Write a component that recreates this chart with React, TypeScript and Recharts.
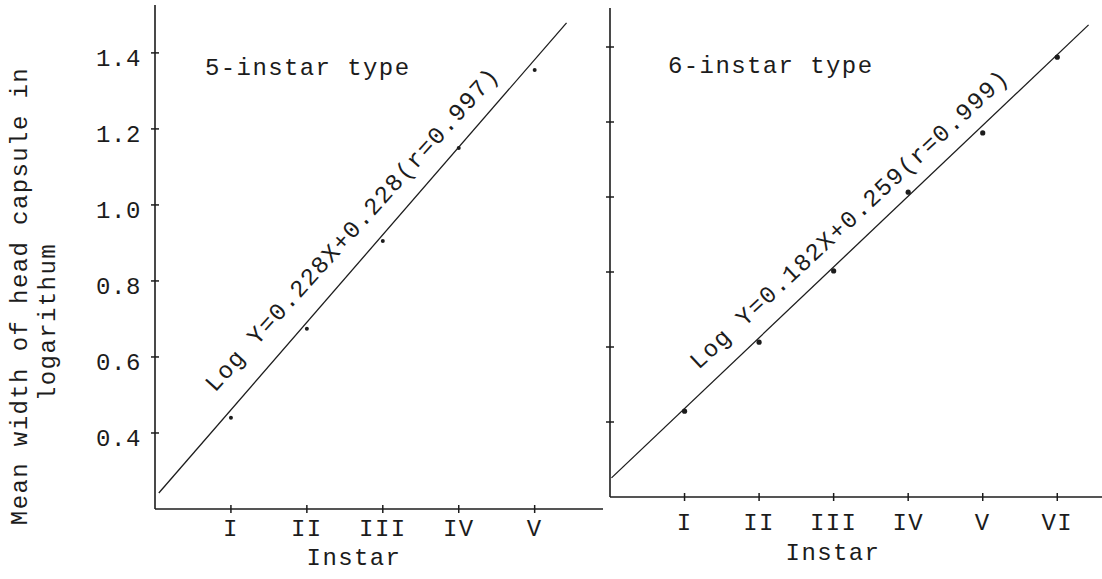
import React from 'react';
import { ScatterChart, Scatter, XAxis, YAxis } from 'recharts';

const FONT = '"Liberation Mono", "DejaVu Sans Mono", monospace';
const INK = '#1c1c1c';

// 5-instar type
const leftInstars = [1, 2, 3, 4, 5];
const leftInstarLabels = ['I', 'II', 'III', 'IV', 'V'];
const leftLogWidth = [0.44, 0.674, 0.905, 1.15, 1.355];
const leftFitX = [0.05, 5.42];
const leftFitY = [0.242, 1.479];

// 6-instar type
const rightInstars = [1, 2, 3, 4, 5, 6];
const rightInstarLabels = ['I', 'II', 'III', 'IV', 'V', 'VI'];
const rightLogWidth = [0.429, 0.613, 0.803, 1.013, 1.171, 1.373];
const rightFitX = [0.02, 6.42];
const rightFitY = [0.251, 1.459];

const yTickValues = [0.4, 0.6, 0.8, 1.0, 1.2, 1.4];
const yTickLabels = ['0.4', '0.6', '0.8', '1.0', '1.2', '1.4'];

const leftPoints = leftInstars.map((x, i) => ({ x, y: leftLogWidth[i] }));
const leftFit = leftFitX.map((x, i) => ({ x, y: leftFitY[i] }));
const rightPoints = rightInstars.map((x, i) => ({ x, y: rightLogWidth[i] }));
const rightFit = rightFitX.map((x, i) => ({ x, y: rightFitY[i] }));

const textStyle = { fontFamily: FONT, fontSize: 24, letterSpacing: 1.4, fill: INK } as const;

const makeXTick = (labels: string[], labelDy: number) => (props: any) => {
  const { x, y, payload } = props;
  const label = labels[Math.round(payload.value) - 1] ?? '';
  return (
    <g>
      <line x1={x} x2={x} y1={y - 4} y2={y + 4} stroke={INK} strokeWidth={1.5} />
      <text x={x} y={y + labelDy} textAnchor="middle" dominantBaseline="central" {...textStyle}>
        {label}
      </text>
    </g>
  );
};

const makeYTick = (showLabel: boolean) => (props: any) => {
  const { x, y, payload } = props;
  const idx = yTickValues.findIndex((v) => Math.abs(v - payload.value) < 1e-6);
  return (
    <g>
      <line x1={x - 4} x2={x + 4} y1={y} y2={y} stroke={INK} strokeWidth={1.5} />
      {showLabel && idx >= 0 ? (
        <text x={x - 14} y={y + 7} textAnchor="end" dominantBaseline="central" {...textStyle} letterSpacing={0.6}>
          {yTickLabels[idx]}
        </text>
      ) : null}
    </g>
  );
};

const noShape = () => <g />;
const dotShape = (r: number) => (p: any) => <circle cx={p.cx} cy={p.cy} r={r} fill={INK} />;

const axisLine = { stroke: INK, strokeWidth: 1.6 };
const fitLine = { stroke: INK, strokeWidth: 1.3 };

export default function App() {
  return (
    <div style={{ position: 'absolute', left: 0, top: 0, width: 1102, height: 579, background: '#fff' }}>
      <div style={{ position: 'absolute', left: 0, top: 0 }}>
        <ScatterChart width={603} height={579} margin={{ top: 5, right: 0, bottom: 0, left: 0 }}>
          <XAxis
            dataKey="x"
            type="number"
            domain={[0, 5.9]}
            ticks={leftInstars}
            interval={0}
            allowDataOverflow
            height={70}
            axisLine={axisLine}
            tickLine={false}
            tickSize={0}
            tickMargin={0}
            tick={makeXTick(leftInstarLabels, 20)}
          />
          <YAxis
            dataKey="y"
            type="number"
            domain={[0.2, 1.526]}
            ticks={yTickValues}
            interval={0}
            allowDataOverflow
            width={155}
            axisLine={axisLine}
            tickLine={false}
            tickSize={0}
            tickMargin={0}
            tick={makeYTick(true)}
          />
          <Scatter data={leftFit} line={fitLine} shape={noShape} isAnimationActive={false} />
          <Scatter data={leftPoints} shape={dotShape(2)} isAnimationActive={false} />
        </ScatterChart>
      </div>
      <div style={{ position: 'absolute', left: 0, top: 0 }}>
        <ScatterChart width={1102} height={579} margin={{ top: 8, right: 0, bottom: 0, left: 0 }}>
          <XAxis
            dataKey="x"
            type="number"
            domain={[0, 6.6]}
            ticks={rightInstars}
            interval={0}
            allowDataOverflow
            height={82}
            axisLine={axisLine}
            tickLine={false}
            tickSize={0}
            tickMargin={0}
            tick={makeXTick(rightInstarLabels, 26)}
          />
          <YAxis
            dataKey="y"
            type="number"
            domain={[0.2, 1.504]}
            ticks={yTickValues}
            interval={0}
            allowDataOverflow
            width={610}
            axisLine={axisLine}
            tickLine={false}
            tickSize={0}
            tickMargin={0}
            tick={makeYTick(false)}
          />
          <Scatter data={rightFit} line={fitLine} shape={noShape} isAnimationActive={false} />
          <Scatter data={rightPoints} shape={dotShape(2.6)} isAnimationActive={false} />
        </ScatterChart>
      </div>
      <svg
        width={1102}
        height={579}
        style={{ position: 'absolute', left: 0, top: 0, pointerEvents: 'none' }}
      >
        <text x={20} y={296} transform="rotate(-90 20 296)" textAnchor="middle" dominantBaseline="central" {...textStyle}>
          Mean width of head capsule in
        </text>
        <text x={48} y={322} transform="rotate(-90 48 322)" textAnchor="middle" dominantBaseline="central" {...textStyle}>
          logarithum
        </text>
        <text x={205} y={68} dominantBaseline="central" {...textStyle}>
          5-instar type
        </text>
        <text x={668} y={66} dominantBaseline="central" {...textStyle}>
          6-instar type
        </text>
        <text x={353} y={230} transform="rotate(-48 353 230)" textAnchor="middle" dominantBaseline="central" {...textStyle}>
          Log Y=0.228X+0.228(r=0.997)
        </text>
        <text x={850} y={220} transform="rotate(-43 850 220)" textAnchor="middle" dominantBaseline="central" {...textStyle}>
          Log Y=0.182X+0.259(r=0.999)
        </text>
        <text x={354} y={558} textAnchor="middle" dominantBaseline="central" {...textStyle}>
          Instar
        </text>
        <text x={833} y={553} textAnchor="middle" dominantBaseline="central" {...textStyle}>
          Instar
        </text>
      </svg>
    </div>
  );
}
